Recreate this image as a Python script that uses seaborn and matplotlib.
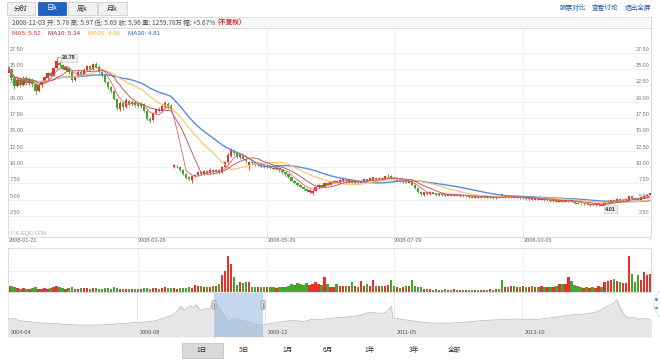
import numpy as np
import pandas as pd
import matplotlib
matplotlib.use("Agg")
import matplotlib.pyplot as plt
from matplotlib.patches import Rectangle, FancyBboxPatch, Circle
import seaborn as sns

# daily k-line 2008-01-21 .. 2008-12-03 (不复权), one value per trading day
opens = [
    24.4, 25.0, 23.6, 22.4, 23.5, 22.6, 23.6, 22.8, 23.4, 22.7,
    21.7, 22.5, 23.2, 23.6, 24.4, 24.0, 25.1, 26.0, 25.6, 24.9,
    25.2, 24.5, 23.3, 23.9, 24.5, 24.2, 24.9, 25.5, 25.0, 25.8,
    25.4, 24.6, 24.1, 23.0, 22.2, 21.6, 20.4, 18.9, 19.8, 19.2,
    20.1, 19.6, 20.0, 19.6, 19.3, 19.6, 18.6, 17.4, 17.2, 18.3,
    18.9, 18.6, 19.2, 19.6, 19.4, 10.0, 10.1, 10.0, 9.6, 9.0,
    8.4, 8.0, 8.6, 8.8, 9.2, 8.9, 9.4, 9.1, 9.6, 9.3,
    9.6, 9.2, 10.0, 10.7, 11.7, 12.5, 12.2, 11.5, 11.7, 11.2,
    10.2, 10.8, 10.6, 10.3, 10.4, 10.3, 10.0, 10.1, 9.9, 9.7,
    9.8, 9.5, 9.2, 8.9, 8.4, 7.9, 7.6, 7.3, 7.0, 6.7,
    6.2, 6.0, 6.4, 6.9, 7.2, 7.0, 7.6, 7.3, 7.6, 7.9,
    7.6, 7.8, 8.0, 7.7, 7.9, 7.5, 7.8, 7.5, 7.8, 8.1,
    7.9, 8.1, 8.3, 8.1, 8.3, 8.2, 8.6, 8.7, 8.2, 7.9,
    8.0, 7.7, 7.9, 7.6, 7.8, 7.3, 6.8, 6.2, 5.7, 6.1,
    5.8, 6.1, 5.9, 5.7, 5.9, 5.7, 5.6, 5.8, 5.6, 5.7,
    5.5, 5.7, 5.5, 5.6, 5.4, 5.3, 5.5, 5.3, 5.4, 5.5,
    5.3, 5.4, 5.2, 5.4, 5.8, 5.4, 5.6, 5.4, 5.5, 5.3,
    5.4, 5.2, 5.3, 5.1, 5.2, 5.0, 5.2, 5.0, 5.1, 4.9,
    5.0, 4.8, 4.9, 4.7, 4.9, 4.7, 4.8, 4.9, 4.7, 4.5,
    4.4, 4.3, 4.4, 4.2, 4.3, 4.2, 4.2, 4.3, 4.1, 4.5,
    4.7, 5.0, 4.8, 5.1, 4.9, 4.9, 5.0, 5.5, 5.2, 5.2,
    5.0, 5.3, 5.5, 5.78,
]
closes = [
    25.3, 23.6, 22.4, 23.4, 22.6, 23.6, 22.8, 23.5, 22.7, 21.6,
    22.5, 23.2, 23.8, 24.4, 24.0, 25.1, 26.2, 25.6, 25.0, 25.3,
    24.5, 23.3, 23.9, 24.5, 24.2, 24.9, 25.5, 25.0, 25.8, 25.4,
    24.6, 24.1, 23.0, 22.2, 21.6, 20.4, 19.0, 19.8, 19.2, 20.2,
    19.6, 20.0, 19.5, 19.3, 19.7, 18.6, 17.4, 17.0, 18.3, 18.9,
    18.6, 19.4, 19.8, 19.2, 18.9, 10.3, 10.2, 9.6, 9.0, 8.3,
    8.2, 8.6, 8.8, 9.2, 8.9, 9.4, 9.1, 9.6, 9.3, 9.5,
    9.2, 10.0, 10.8, 11.8, 12.6, 12.1, 11.6, 11.8, 11.3, 10.9,
    10.7, 10.6, 10.3, 10.5, 10.2, 10.0, 10.2, 9.9, 9.7, 9.9,
    9.5, 9.2, 8.9, 8.5, 7.9, 7.6, 7.3, 7.0, 6.7, 6.4,
    6.5, 6.4, 6.9, 7.2, 7.0, 7.6, 7.3, 7.7, 7.9, 7.6,
    8.0, 8.1, 7.8, 8.0, 7.6, 7.8, 7.5, 7.9, 8.1, 7.9,
    8.3, 8.4, 8.1, 8.3, 8.1, 8.6, 8.7, 8.3, 8.0, 8.1,
    7.8, 7.9, 7.6, 7.8, 7.3, 6.8, 6.2, 5.8, 6.1, 5.8,
    6.2, 5.9, 5.7, 5.9, 5.7, 5.6, 5.8, 5.6, 5.7, 5.6,
    5.7, 5.5, 5.6, 5.4, 5.3, 5.5, 5.3, 5.4, 5.5, 5.3,
    5.4, 5.2, 5.4, 5.3, 5.5, 5.6, 5.4, 5.5, 5.3, 5.4,
    5.2, 5.3, 5.1, 5.3, 5.0, 5.2, 5.0, 5.1, 4.9, 5.0,
    4.8, 4.9, 4.7, 4.9, 4.7, 4.9, 5.0, 4.7, 4.5, 4.4,
    4.3, 4.4, 4.3, 4.3, 4.2, 4.3, 4.4, 4.1, 4.5, 4.8,
    5.0, 4.8, 5.1, 4.9, 5.0, 5.1, 5.5, 5.2, 5.1, 5.0,
    5.4, 5.6, 5.64, 5.96,
]
highs = [
    25.6, 25.2, 23.9, 23.9, 23.8, 24.0, 23.9, 23.8, 23.6, 22.9,
    22.7, 23.4, 24.0, 24.6, 24.7, 25.3, 26.78, 26.3, 25.8, 25.5,
    25.4, 24.7, 24.1, 24.8, 24.8, 25.1, 25.7, 25.7, 26.0, 26.1,
    25.6, 24.8, 24.3, 23.2, 22.4, 21.8, 20.6, 20.1, 20.0, 20.5,
    20.3, 20.2, 20.1, 19.8, 19.9, 19.8, 18.8, 17.6, 18.5, 19.1,
    19.2, 19.6, 20.1, 19.9, 19.6, 10.4, 10.3, 10.1, 9.7, 9.1,
    8.6, 8.7, 9.0, 9.4, 9.3, 9.6, 9.5, 9.8, 9.7, 9.7,
    9.7, 10.1, 11.0, 12.1, 12.9, 12.7, 12.3, 12.0, 11.9, 11.3,
    10.9, 11.0, 10.8, 10.7, 10.6, 10.4, 10.4, 10.2, 10.0, 10.0,
    9.9, 9.6, 9.3, 9.0, 8.5, 8.0, 7.7, 7.4, 7.1, 6.8,
    6.7, 6.5, 7.0, 7.4, 7.3, 7.7, 7.7, 7.8, 8.0, 8.0,
    8.1, 8.2, 8.1, 8.1, 8.0, 7.9, 7.9, 8.0, 8.2, 8.2,
    8.4, 8.5, 8.4, 8.4, 8.4, 8.7, 8.9, 8.8, 8.3, 8.2,
    8.1, 8.0, 8.0, 7.9, 7.9, 7.4, 6.9, 6.3, 6.2, 6.2,
    6.3, 6.2, 6.0, 6.0, 6.0, 5.8, 5.9, 5.9, 5.8, 5.8,
    5.8, 5.8, 5.7, 5.7, 5.5, 5.6, 5.6, 5.5, 5.6, 5.6,
    5.5, 5.5, 5.5, 5.5, 5.9, 5.7, 5.7, 5.6, 5.6, 5.5,
    5.5, 5.4, 5.4, 5.4, 5.3, 5.3, 5.3, 5.2, 5.2, 5.1,
    5.1, 5.0, 5.0, 5.0, 5.0, 5.0, 5.1, 5.0, 4.8, 4.6,
    4.5, 4.5, 4.5, 4.4, 4.4, 4.4, 4.5, 4.4, 4.6, 4.9,
    5.1, 5.1, 5.2, 5.2, 5.1, 5.2, 5.6, 5.6, 5.3, 5.3,
    5.5, 5.7, 5.7, 5.97,
]
lows = [
    24.2, 23.3, 22.0, 22.2, 22.3, 22.4, 22.5, 22.6, 22.2, 21.2,
    21.5, 22.3, 23.0, 23.4, 23.8, 23.9, 25.0, 25.3, 24.8, 24.7,
    24.3, 23.0, 23.2, 23.8, 24.0, 24.1, 24.7, 24.8, 24.9, 25.2,
    24.4, 23.8, 22.8, 21.9, 21.3, 20.2, 18.7, 18.6, 18.8, 19.0,
    19.4, 19.4, 19.2, 19.0, 19.1, 18.4, 17.2, 16.7, 17.0, 18.1,
    18.4, 18.5, 19.0, 18.9, 18.7, 9.9, 9.9, 9.4, 8.8, 8.1,
    8.0, 7.6, 8.4, 8.7, 8.8, 8.8, 9.0, 9.0, 9.1, 9.2,
    9.0, 9.1, 9.9, 10.6, 11.5, 11.9, 11.4, 11.3, 11.1, 10.6,
    9.5, 10.4, 10.1, 10.2, 10.0, 9.8, 9.9, 9.7, 9.5, 9.6,
    9.3, 9.0, 8.7, 8.3, 7.8, 7.4, 7.1, 6.9, 6.5, 6.2,
    6.0, 5.7, 6.3, 6.8, 6.9, 6.9, 7.2, 7.2, 7.5, 7.5,
    7.5, 7.7, 7.6, 7.6, 7.5, 7.4, 7.4, 7.4, 7.7, 7.7,
    7.8, 8.0, 8.0, 8.0, 8.0, 8.1, 8.5, 8.2, 7.9, 7.8,
    7.7, 7.6, 7.5, 7.5, 7.2, 6.6, 6.0, 5.6, 5.6, 5.7,
    5.7, 5.8, 5.6, 5.6, 5.6, 5.5, 5.5, 5.5, 5.5, 5.5,
    5.4, 5.4, 5.4, 5.3, 5.2, 5.2, 5.2, 5.2, 5.3, 5.2,
    5.2, 5.1, 5.1, 5.2, 5.4, 5.3, 5.3, 5.3, 5.2, 5.2,
    5.1, 5.1, 5.0, 5.0, 4.9, 4.9, 4.9, 4.9, 4.8, 4.8,
    4.7, 4.7, 4.6, 4.6, 4.6, 4.6, 4.7, 4.6, 4.4, 4.3,
    4.2, 4.2, 4.2, 4.1, 4.1, 4.1, 4.1, 4.01, 4.05, 4.4,
    4.6, 4.7, 4.7, 4.8, 4.8, 4.8, 4.9, 5.1, 5.0, 4.9,
    4.9, 5.2, 5.4, 5.69,
]
# volume in 万股
volumes = [
    420, 380, 300, 260, 200, 280, 220, 180, 240, 300,
    200, 180, 250, 220, 260, 300, 380, 300, 260, 200,
    240, 300, 220, 200, 260, 240, 280, 220, 260, 240,
    200, 220, 260, 240, 220, 300, 280, 200, 180, 160,
    180, 200, 160, 180, 200, 240, 260, 220, 280, 240,
    220, 260, 300, 240, 280, 260, 200, 240, 280, 260,
    300, 280, 460, 400, 380, 300, 320, 360, 380, 400,
    580, 1170, 1500, 2560, 1940, 1050, 500, 680, 620, 700,
    700, 350, 320, 300, 340, 300, 320, 340, 300, 280,
    320, 300, 340, 420, 560, 480, 600, 520, 440, 620,
    480, 560, 700, 560, 460, 1050, 520, 360, 320, 570,
    400, 380, 420, 400, 690, 380, 340, 760, 420, 560,
    380, 800, 420, 400, 420, 380, 460, 850, 380, 320,
    280, 320, 420, 380, 800, 400, 340, 300, 200, 160,
    180, 140, 160, 120, 140, 160, 120, 140, 160, 120,
    100, 120, 90, 110, 100, 130, 100, 120, 140, 120,
    160, 140, 180, 220, 800, 360, 300, 420, 380, 340,
    300, 380, 340, 300, 420, 360, 320, 380, 300, 340,
    360, 300, 420, 560, 520, 580, 1030, 740, 500, 380,
    300, 260, 320, 280, 300, 240, 420, 300, 690, 760,
    800, 920, 760, 700, 600, 640, 2520, 1260, 690, 1150,
    850, 1370, 1210, 1259.78,
]

date_ticks = [0, 43, 86, 128, 171]
date_labels = ["2008-01-21", "2008-03-26", "2008-05-29", "2008-07-29", "2008-10-06"]
price_ticks = [2.5, 5, 7.5, 10, 12.5, 15, 17.5, 20, 22.5, 25, 27.5]

# navigator: price history (months since 2004-04)
nav_month = [0, 1, 2.4, 3.8, 5.7, 7.6, 9.4, 12.3, 15, 17.9, 20.7, 23.5, 26.3, 28.2,
             30, 31.9, 33.3, 34.7, 35.6, 36.6, 37.5, 38, 38.4, 39.1, 39.9, 40.5,
             41.1, 41.7, 42.4, 43.1, 43.9, 44.5, 45.3, 45.9, 46.7, 47.3, 47.8,
             48.8, 49.5, 50.4, 51.6, 53, 54.4, 55.8, 56.7, 58, 60, 62.8, 65.6,
             67.5, 69.3, 72, 75, 77.8, 79.6, 81, 82.4, 83.8, 85, 85.4, 87.1, 89,
             90.8, 92.7, 94.6, 97.4, 100.2, 103, 105.8, 108.6, 111.4, 114.2, 117,
             119.9, 122.7, 125.5, 128.3, 130.2, 131.6, 133, 134.4, 135, 135.8,
             136.7, 137.6, 138.6, 140, 141.4, 142.8]
nav_value = [9.4, 10.4, 8.2, 7.2, 6.6, 5.6, 5.6, 4.7, 4.0, 3.7, 4.0, 4.7, 5.6, 6.2,
             6.6, 7.2, 8.8, 10.4, 12.0, 13.6, 16.7, 19.9, 21.5, 17.7, 20.9, 22.1,
             19.9, 23.1, 19.0, 17.7, 19.9, 18.3, 23.1, 24.7, 21.5, 18.3, 14.5,
             7.2, 9.4, 10.4, 8.2, 7.2, 5.6, 4.0, 4.0, 5.0, 6.6, 8.2, 7.2,
             9.4, 8.8, 10.4, 11.3, 12.6, 15.2, 15.8, 14.5, 15.8, 21.5, 10.4, 9.4, 8.2,
             7.2, 6.2, 5.6, 5.6, 6.2, 7.2, 8.2, 8.8, 9.4, 9.4, 8.8,
             10.4, 12.0, 13.6, 14.5, 15.8, 18.3, 21.5, 24.7, 27.9, 19.9,
             13.6, 10.4, 11.3, 9.4, 10.4, 8.2]
nav_tick_month = [0, 28.6, 57, 85.6, 114]
nav_tick_labels = ["2004-04", "2006-08", "2008-12", "2011-05", "2013-10"]
window = (45.65, 56.5)

buttons = ["1日", "5日", "1月", "6月", "1年", "3年", "全部"]
button_x = [202, 244, 288, 328, 370, 414, 454]
tabs = ["分时", "日k", "周k", "月k"]

RED = "#e8302e"
GREEN = "#43a82a"
GRID = "#eeeeee"
EDGE = "#dddddd"
CJK = ["Noto Sans CJK SC", "DejaVu Sans"]

sns.set_theme(style="white")
plt.rcParams["font.family"] = ["Liberation Sans", "DejaVu Sans"]

W, H = 660, 362
fig = plt.figure(figsize=(6.6, 3.62), dpi=100, facecolor="white")


def add_ax(l, t, r, b):
    return fig.add_axes([l / W, 1 - b / H, (r - l) / W, (b - t) / H])


idx = np.arange(len(closes))
o = np.array(opens)
c = np.array(closes)
h = np.maximum(np.array(highs), np.maximum(o, c))
l = np.minimum(np.array(lows), np.minimum(o, c))
up = c >= o
col = np.where(up, RED, GREEN)

s = pd.Series(c)
ma = pd.DataFrame({
    "day": idx,
    "MA5": s.rolling(5, min_periods=1).mean(),
    "MA10": s.rolling(10, min_periods=1).mean(),
    "MA20": s.rolling(20, min_periods=1).mean(),
    "MA30": s.rolling(30, min_periods=1).mean(),
})

# ---------------- main k-line panel
ax = add_ax(7.5, 28, 651, 237)
ax.set_xlim(-0.3, 213.4)
ax.set_ylim(-0.72, 31.3)
ax.vlines(idx, l, h, colors=col, linewidth=0.6, zorder=2)
ax.bar(idx, np.maximum(np.abs(c - o), 0.07), bottom=np.minimum(o, c),
       width=0.75, color=col, linewidth=0, zorder=3)
for name, color, lw in [("MA30", "#5b8bd9", 1.0), ("MA20", "#f6c464", 0.8),
                        ("MA10", "#b04a55", 0.6), ("MA5", "#e0606a", 0.6)]:
    sns.lineplot(data=ma, x="day", y=name, ax=ax, color=color, linewidth=lw,
                 zorder=4, legend=False)
ax.set_xlabel("")
ax.set_ylabel("")
ax.set_xticks(date_ticks)
ax.set_yticks(price_ticks)
ax.set_xticklabels([])
ax.set_yticklabels([])
ax.tick_params(length=0)
ax.grid(True, color=GRID, linewidth=0.6)
for sp in ax.spines.values():
    sp.set_color(EDGE)
    sp.set_linewidth(0.8)
ytr = ax.get_yaxis_transform()
for v in price_ticks:
    ax.text(0.003, v + 0.15, f"{v:.2f}", transform=ytr, fontsize=4, color="#777777",
            ha="left", va="bottom")
    ax.text(0.998, v + 0.15, f"{v:.2f}", transform=ytr, fontsize=4, color="#777777",
            ha="right", va="bottom")
xtr = ax.get_xaxis_transform()
for d, lab in zip(date_ticks, date_labels):
    ax.text(d, -0.019, lab, transform=xtr, fontsize=4, color="#666666",
            ha="left", va="center", clip_on=False)
ax.text(1.0, -0.019, ":", transform=ax.transAxes, fontsize=4, color="#666666",
        ha="right", va="center", clip_on=False)
ax.text(0.004, 0.02, "© XUEQIU.COM", transform=ax.transAxes, fontsize=3.5,
        color="#aaaaaa", ha="left", va="center")

# max / min markers
imax = int(np.argmax(h))
imin = int(np.argmin(l))
ax.plot([imax + 0.3, imax + 1.8], [h[imax] + 0.12, h[imax] + 0.12], color="#888888",
        lw=0.5, zorder=5)
ax.text(imax + 1.9, h[imax] - 0.05, f"{h[imax]:.2f}", fontsize=4, fontweight="bold",
        color="#333333", ha="left", va="center", zorder=6,
        bbox=dict(boxstyle="square,pad=0.25", fc="#eeeeee", ec="#cccccc", lw=0.5))
ax.text(imin + 1.2, l[imin] - 0.45, f"{l[imin]:.2f}", fontsize=4, fontweight="bold",
        color="#333333", ha="left", va="center", zorder=6,
        bbox=dict(boxstyle="square,pad=0.25", fc="#eeeeee", ec="#cccccc", lw=0.5))

# ---------------- volume panel
vax = add_ax(7.5, 248, 651, 291.7)
vax.set_xlim(-0.3, 213.4)
vax.set_ylim(0, 3100)
vax.bar(idx, volumes, width=0.75, color=col, linewidth=0)
vax.set_xticks(date_ticks)
vax.set_yticks([1500])
vax.set_xticklabels([])
vax.set_yticklabels([])
vax.tick_params(length=0)
vax.grid(True, color=GRID, linewidth=0.6)
for sp in vax.spines.values():
    sp.set_color(EDGE)
    sp.set_linewidth(0.8)

# ---------------- navigator
nax = add_ax(7.5, 292.5, 651, 337)
nax.set_xlim(-0.11, 142.6)
nax.set_ylim(-7.4, 34.5)
nav = pd.DataFrame({"month": nav_month, "value": nav_value})
nax.fill_between(nav["month"], nav["value"], -7.4, color="#e6e6e6", linewidth=0)
sns.lineplot(data=nav, x="month", y="value", ax=nax, color="#c0c0c0", linewidth=0.6)
nax.set_xlabel("")
nax.set_ylabel("")
nax.axvspan(window[0], window[1], color="#7aa7dc", alpha=0.45, linewidth=0)
nax.set_xticks(nav_tick_month)
nax.set_yticks([])
nax.set_xticklabels([])
nax.tick_params(length=0)
nax.grid(True, axis="x", color="#e4e4e4", linewidth=0.6)
for sp in nax.spines.values():
    sp.set_visible(False)
for m, lab in zip(nav_tick_month, nav_tick_labels):
    nax.text(m + 0.6, 0.1, lab, transform=nax.get_xaxis_transform(), fontsize=4,
             color="#555555", ha="left", va="center")

# ---------------- page chrome (pixel coordinates)
ov = fig.add_axes([0, 0, 1, 1])
ov.set_xlim(0, W)
ov.set_ylim(H, 0)
ov.axis("off")
ov.patch.set_alpha(0)

tab_x = [(7, 35), (38, 66), (68, 97), (98, 127)]
for (x0, x1), name in zip(tab_x, tabs):
    sel = name == "日k"
    ov.add_patch(Rectangle((x0, 1.5), x1 - x0, 13.5,
                           fc="#2261c4" if sel else "#f1f1f1",
                           ec="#2261c4" if sel else "#d0d0d0", lw=0.6))
    ov.text((x0 + x1) / 2, 8.5, name, fontsize=5, ha="center", va="center",
            color="white" if sel else "#333333", family=CJK)

for name, x in [("股票对比", 573.5), ("查看讨论", 605.5), ("退出全屏", 637.5)]:
    ov.text(x, 8.3, name, fontsize=4.8, ha="center", va="center", color="#2a5caa",
            family=CJK)

ov.add_patch(Rectangle((7.5, 17), 643.5, 11, fc="#f7f7f7", ec=EDGE, lw=0.7))
info = ov.text(12, 22.8, "2008-12-03 开: 5.78 高: 5.97 低: 5.69 收: 5.96 量: 1259.78万 幅: +5.67%",
               fontsize=4.65, ha="left", va="center", color="#555555", family=CJK)
fig.canvas.draw()
bb = info.get_window_extent()
ov.text(bb.x1 + 2, 22.8, "(不复权)", fontsize=4.65, ha="left", va="center",
        color="#e02424", fontweight="bold", family=CJK)

for text, x, color in [("MA5: 5.52", 12, "#e0302e"), ("MA10: 5.34", 48, "#a8282e"),
                       ("MA20: 4.96", 88, "#f2b01e"), ("MA30: 4.81", 128, "#2f62c0")]:
    ov.text(x, 33.5, text, fontsize=4.5, ha="left", va="center", color=color)

# navigator handles
for x in [214, 263]:
    ov.add_patch(FancyBboxPatch((x - 2, 300.5), 4, 9, boxstyle="round,pad=0,rounding_size=1.5",
                                fc="#dcdcdc", ec="#999999", lw=0.5))
    ov.plot([x, x], [302.5, 307.5], color="#777777", lw=0.5)

# right widget
ov.add_patch(Circle((671, 304), 17, fc="white", ec="#dddddd", lw=0.6))
ov.add_patch(Circle((656.5, 299.5), 1.4, fc="#3b7ddd", ec="none"))
ov.add_patch(Circle((656.5, 308), 1.4, fc="#5cb85c", ec="none"))

# range buttons
ov.add_patch(Rectangle((182, 342.5), 41, 15, fc="#d9d9d9", ec="#c4c4c4", lw=0.6))
for name, x in zip(buttons, button_x):
    ov.text(x, 350, name, fontsize=4.8, ha="center", va="center", color="#333333",
            family=CJK)

fig.savefig("out.png", dpi=100, facecolor="white")
